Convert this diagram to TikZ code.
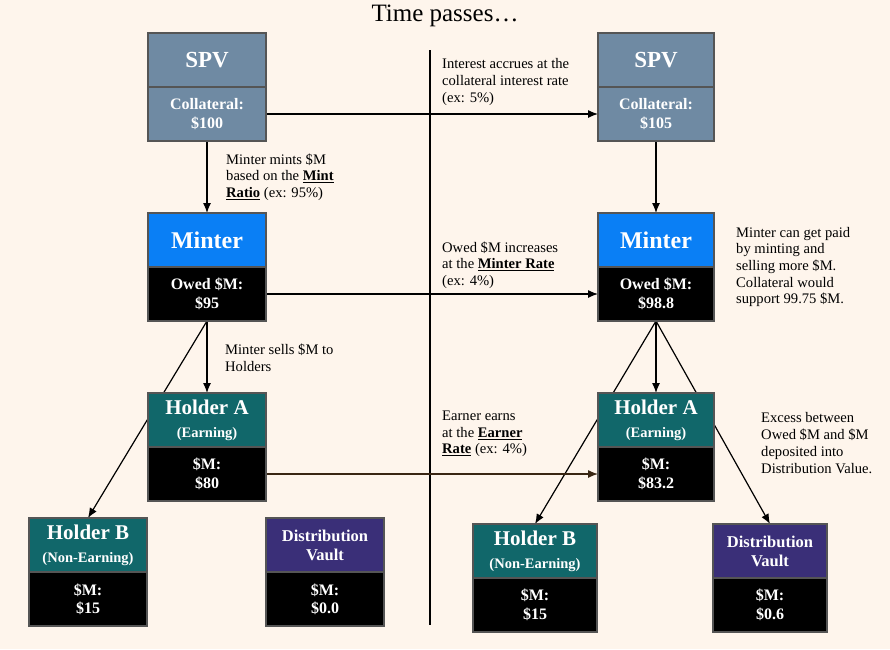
\documentclass[tikz,border=0pt]{standalone}
\usepackage{fontspec}
\setmainfont{Liberation Serif}
\usepackage{tikz}
\usetikzlibrary{positioning}
\usetikzlibrary{arrows.meta}
\usetikzlibrary{backgrounds}
\definecolor{paper}{HTML}{FEF5EC}
\definecolor{edgegray}{HTML}{555555}
\definecolor{spvblue}{HTML}{6F8AA3}
\definecolor{minterblue}{HTML}{0A7FF5}
\definecolor{holderteal}{HTML}{11676A}
\definecolor{vaultpurple}{HTML}{3A2F78}
\newcommand{\boxfont}[1]{\fontsize{#1}{1.15\dimexpr #1pt\relax}\selectfont\bfseries}
\newcommand{\ul}[1]{\underline{\textbf{#1}}}

\begin{document}
\begin{tikzpicture}[x=1pt,y=-1pt,
    box/.style={draw=edgegray,line width=1.2pt,minimum width=118,minimum height=54,
        inner sep=0,outer sep=0,text=white,align=center},
    spvhead/.style={box,fill=spvblue,font=\boxfont{23}},
    minterhead/.style={box,fill=minterblue,font=\boxfont{24}},
    holderhead/.style={box,fill=holderteal,font=\boxfont{21}},
    vaulthead/.style={box,fill=vaultpurple,font=\boxfont{16.5}},
    spvval/.style={box,fill=spvblue,font=\boxfont{16}},
    val/.style={box,fill=black,font=\boxfont{16}},
    note/.style={anchor=west,align=left,inner sep=0,font=\fontsize{14.6}{16.7}\selectfont},
    flow/.style={line width=1.2pt,-{Latex[length=10pt,width=8pt]}}]
    %%% PAGE %%%
    \useasboundingbox (0,0) rectangle (890,649);
    \node[font=\fontsize{25}{28}\selectfont] (title) at (445,16) {Time passes\ldots};
    %%% BEFORE %%%
    % SPV and minter %
    \node[spvhead] (spvL) at (207,60) {SPV};
    \node[spvval,below=0pt of spvL] (spvLv) {Collateral:\\\$100};
    \node[minterhead] (minterL) at (207,240) {Minter};
    \node[val,below=0pt of minterL] (minterLv) {Owed \$M:\\\$95};
    % holders and vault %
    \node[holderhead] (holderAL) at (207,420) {Holder A\\[-1pt]{\fontsize{14.5}{16}\selectfont(Earning)}};
    \node[val,below=0pt of holderAL] (holderALv) {\$M:\\\$80};
    \node[holderhead] (holderBL) at (88,545) {Holder B\\[-1pt]{\fontsize{14.5}{16}\selectfont(Non-Earning)}};
    \node[val,below=0pt of holderBL] (holderBLv) {\$M:\\\$15};
    \node[vaulthead] (vaultL) at (325,545) {Distribution\\Vault};
    \node[val,below=0pt of vaultL] (vaultLv) {\$M:\\\$0.0};
    %%% AFTER %%%
    % SPV and minter %
    \node[spvhead,minimum width=116] (spvR) at (656,60) {SPV};
    \node[spvval,minimum width=116,below=0pt of spvR] (spvRv) {Collateral:\\\$105};
    \node[minterhead,minimum width=116] (minterR) at (656,240) {Minter};
    \node[val,minimum width=116,below=0pt of minterR] (minterRv) {Owed \$M:\\\$98.8};
    % holders and vault %
    \node[holderhead,minimum width=116] (holderAR) at (656,420) {Holder A\\[-1pt]{\fontsize{14.5}{16}\selectfont(Earning)}};
    \node[val,minimum width=116,below=0pt of holderAR] (holderARv) {\$M:\\\$83.2};
    \node[holderhead,minimum width=124] (holderBR) at (535,551) {Holder B\\[-1pt]{\fontsize{14.5}{16}\selectfont(Non-Earning)}};
    \node[val,minimum width=124,below=0pt of holderBR] (holderBRv) {\$M:\\\$15};
    \node[vaulthead,minimum width=114] (vaultR) at (770,551) {Distribution\\Vault};
    \node[val,minimum width=114,below=0pt of vaultR] (vaultRv) {\$M:\\\$0.6};
    %%% NOTES %%%
    \node[note] (mintnote) at (226,177) {Minter mints \$M\\based on the \ul{Mint}\\\ul{Ratio} (ex: 95\%)};
    \node[note] (sellnote) at (225,358) {Minter sells \$M to\\Holders};
    \node[note] (interestnote) at (442,82) {Interest accrues at the\\collateral interest rate\\(ex: 5\%)};
    \node[note] (owednote) at (442,265) {Owed \$M increases\\at the \ul{Minter Rate}\\(ex: 4\%)};
    \node[note] (paidnote) at (736,267) {Minter can get paid\\by minting and\\selling more \$M.\\Collateral would\\support 99.75 \$M.};
    \node[note] (earnnote) at (442,434) {Earner earns\\at the \ul{Earner}\\\ul{Rate} (ex: 4\%)};
    \node[note] (excessnote) at (761,443) {Excess between\\Owed \$M and \$M\\deposited into\\Distribution Value.};
    %%% CONNECTORS %%%
    \coordinate (divtop) at (430,50);
    \coordinate (divbot) at (430,625);
    \begin{pgfonlayer}{background}
        \fill[paper] (0,0) rectangle (890,649);
        \draw[line width=1.2pt] (divtop)--(divbot);
        % minting and selling %
        \draw[flow] (spvLv.south)--(minterL.north);
        \draw[flow] (minterLv.south)--(holderAL.north);
        \draw[flow] (minterLv.south)--(holderBL.north);
        \draw[flow] (spvRv.south)--(minterR.north);
        \draw[flow] (minterRv.south)--(holderAR.north);
        \draw[flow] (minterRv.south)--(holderBR.north);
        \draw[flow] (minterRv.south)--(vaultR.north);
        % time passes %
        \draw[flow] (spvLv.east)--(spvRv.west);
        \draw[flow] (minterLv.east)--(minterRv.west);
        \draw[flow,draw=black!70!brown] (holderALv.east)--(holderARv.west);
    \end{pgfonlayer}
\end{tikzpicture}
\end{document}
